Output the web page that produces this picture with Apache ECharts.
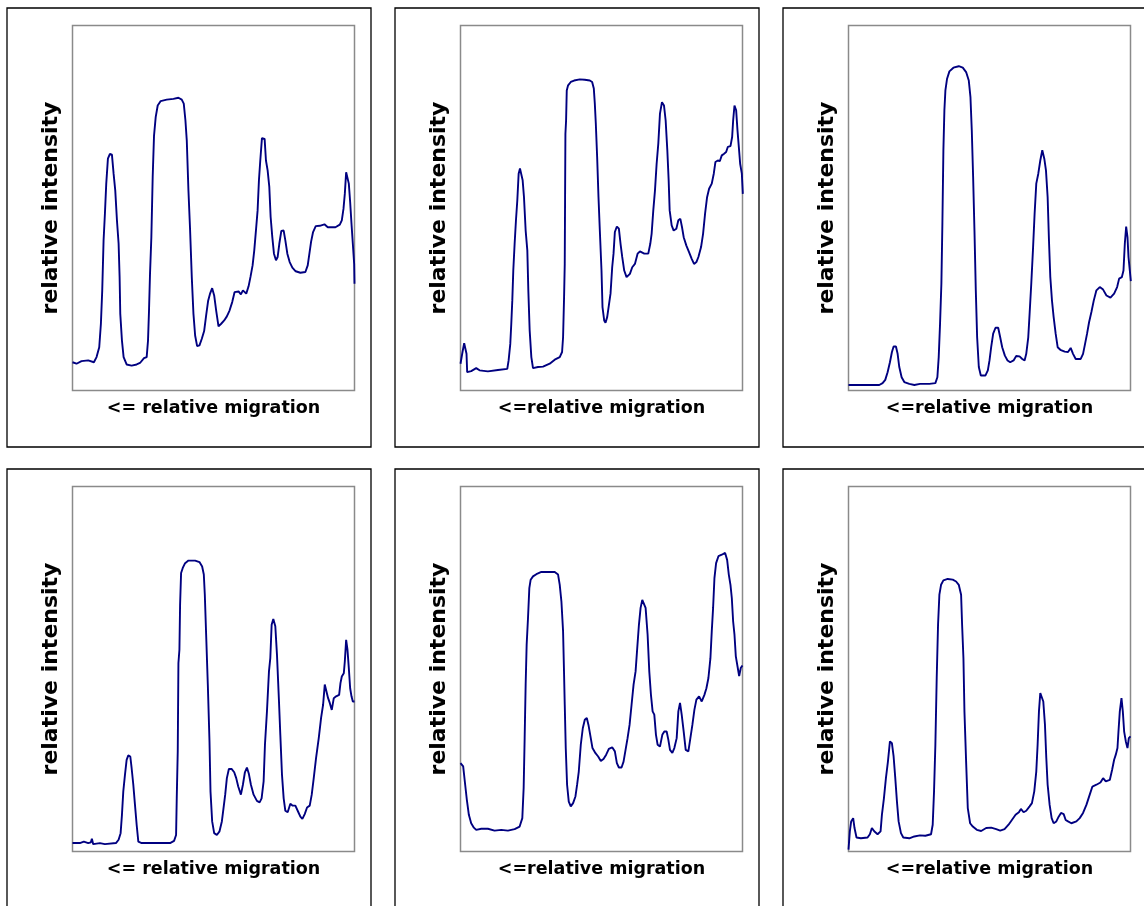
<!DOCTYPE html>
<html>
<head>
<meta charset="utf-8">
<script src="https://cdn.jsdelivr.net/npm/echarts@6/dist/echarts.min.js"></script>
<style>
html,body{margin:0;padding:0;background:#fff;}
#chart{width:1144px;height:906px;}
</style>
</head>
<body>
<div id="chart"></div>
<script>
// Densitometric lane profiles: [relative migration, relative intensity]
const lane1 = [[0,7.7],[3,7.3],[6.75,8.0],[11.75,8.2],[16,7.7],[18,9.1],[20,11.8],[21.25,18.2],[22.25,27.3],[23.25,40.9],[24.25,48.2],[25.25,56.4],[26.5,63.2],[28,64.5],[29.5,64.3],[30.75,59.1],[32,54.5],[33.25,46.4],[34.5,40],[35.25,30.9],[35.75,20.9],[37,13.6],[38.25,9.1],[40.5,7.1],[44.25,6.8],[48,7.1],[50.5,7.5],[53.5,8.8],[55.5,9.1],[56.5,13.6],[57.25,21.8],[58,31.8],[59,41.8],[60,58.2],[61,69.5],[62.25,74.5],[63.75,77.7],[66,78.9],[70.5,79.3],[75.5,79.5],[79.25,79.8],[81.75,79.3],[83.25,78.2],[84.5,73.6],[85.5,68.2],[86.75,54.5],[88,43.6],[89.25,30.9],[90.5,20.9],[91.75,15],[93.25,12.1],[95,12.3],[96.75,14.1],[98.5,16.2],[100,20.5],[101.5,24.5],[103,26.5],[104.5,27.9],[106,25.9],[107.5,21.8],[109.25,17.5],[111.25,18.2],[113.5,19.1],[115.5,20.2],[117.5,21.8],[119.5,24.1],[121.25,26.8],[124.25,27],[126,26.2],[127.5,27.3],[130,26.4],[131.75,28.4],[133.25,31.1],[134.75,34.1],[136,38.2],[137.25,43.6],[138.5,49.1],[139.5,57.3],[140.5,62.7],[141.75,68.8],[143.75,68.6],[144.75,62.7],[146,60],[147.25,55.5],[148.25,47.3],[149.5,41.8],[150.75,37.3],[152.25,35.5],[153.5,36.4],[154.75,40],[156.25,43.5],[158,43.6],[159.25,40.9],[160.75,37.3],[162.5,35],[164.5,33.5],[167,32.5],[170.5,32.1],[174.25,32.3],[176,34.1],[177.25,37.3],[178.5,40.5],[180,43.2],[182,44.8],[185,44.9],[188.5,45.3],[191,44.5],[196.75,44.5],[200,45.2],[201.5,46.4],[202.75,49.5],[203.75,53.6],[204.75,59.5],[205.75,59.5],[206.75,56.4],[207.75,51.4],[208.75,45.5],[209.75,40],[210.75,34.5],[211,29.1]];
const lane2 = [[0,7.3],[1.5,10.5],[2.75,12.9],[3.75,13.2],[4.5,10],[5,5],[8,5.3],[11.75,6.1],[14.25,5.5],[20.5,5.2],[28,5.6],[35,5.9],[36,8.2],[37.25,12.7],[38,18.2],[38.75,24.5],[39.5,32.7],[40.5,40],[41.5,46.4],[42.5,51.8],[43.5,59.1],[44.5,60.5],[45.75,60],[46.5,57.3],[47.5,52.7],[48.75,43.6],[50,38.2],[50.75,27.3],[51.75,16.4],[53,9.1],[54.25,6.1],[58,6.4],[61.75,6.5],[66.75,7.3],[70.5,8.4],[74.25,9.1],[76,10.5],[76.75,14.5],[77.5,25.5],[78,34.5],[78.25,52.7],[78.5,70],[79,73.6],[79.5,81.8],[80.5,83.2],[82.5,84.1],[85,84.5],[89.25,84.8],[93,84.7],[96.75,84.5],[98.5,84.1],[99.75,82.3],[100.5,78.2],[101.25,72.7],[102.25,63.6],[103.25,52.7],[104.25,43.6],[105.5,32.7],[106.25,22.7],[107.5,19.1],[108.5,18.5],[109.75,20],[111,23.2],[112.25,26.4],[113.5,33.6],[114.5,37.3],[115.5,43.2],[117,44.7],[118.5,44.1],[119.75,40],[121,36.4],[122.5,32.7],[124.25,30.9],[126.75,31.8],[128.5,33.6],[130.5,34.5],[132.5,37.3],[134.25,37.9],[137.5,37.3],[140.5,37.3],[142,40],[143,42.7],[144.25,49.1],[145.5,54.5],[146.75,61.8],[148,67.3],[149.25,75.5],[150.75,78.6],[152.25,77.7],[153.5,73.6],[154.75,65.5],[155.75,57.3],[156.5,49.1],[158,45],[159.5,43.6],[161.5,44.1],[163,46.4],[164.5,46.8],[165.75,44.5],[167,41.8],[169,39.5],[171,37.7],[173,35.9],[174.75,34.5],[176.5,35],[178,36.4],[180,39.1],[181.5,42.7],[183,48.2],[184.5,52.7],[186,55],[188,56.4],[189.5,59.1],[190.75,62.3],[192.5,62.7],[194,62.5],[195.5,64.1],[197,64.5],[198.75,65],[200,66.4],[202,66.6],[203.25,69.1],[204,73.6],[205,77.7],[206.25,76.4],[207.25,70.9],[208.25,66.4],[209.25,61.8],[210.5,59.1],[211.25,53.6]];
const lane3 = [[0,1.5],[10.5,1.5],[23,1.5],[25.5,2],[27.5,2.9],[29.25,5],[31,7.7],[32.5,10.5],[33.75,12],[35.5,12],[36.75,10],[38,6.4],[39.75,3.6],[41.75,2.3],[45.5,1.8],[49.25,1.5],[53.5,1.8],[60.5,1.8],[65,2],[66.5,3.6],[67.5,9.1],[68.5,18.2],[69.5,29.1],[70.25,45.5],[71,65.5],[71.75,76.4],[72.5,81.8],[73.75,85],[75.5,87],[78.5,88],[82.5,88.4],[85.5,88],[88,86.8],[90,84.5],[91.25,80],[92.25,70.9],[93.25,58.2],[94.25,43.6],[95.25,27.3],[96.25,14.5],[97.5,6.4],[99,4.1],[102.5,4.1],[104.25,5.5],[105.5,8.2],[106.75,11.8],[108.25,15.5],[110,17.1],[112,17.1],[113.5,14.5],[115,11.8],[117,9.5],[119,8.2],[121,7.7],[123.5,8.2],[125.5,9.4],[128,9.3],[130,8.6],[131.75,8.2],[133,10],[134.5,14.5],[135.5,20.9],[136.75,29.1],[138,38.2],[139.25,48.2],[140.5,56.4],[142,59.1],[143.5,62.7],[145,65.5],[146.5,63.2],[147.75,60],[149,52.7],[150,40.9],[151,30.9],[152.25,24.5],[153.5,20],[155,15.5],[156.5,11.8],[158.5,11.1],[161.75,10.6],[164.25,10.5],[166.25,11.6],[168,10],[170,8.6],[173.75,8.6],[175.5,10],[177,12.7],[178.5,15.5],[180,18.6],[181.75,21.4],[183.5,24.5],[185.5,27.3],[188,28.2],[190.5,27.5],[193,25.9],[196,25.3],[198.75,26.4],[201,28.2],[202.5,30.5],[204.5,30.9],[205.75,32.7],[206.75,40],[207.75,44.7],[208.75,41.8],[209.5,36.4],[210.5,32.7],[211.25,29.8]];
const lane4 = [[0,2.3],[5.5,2.3],[8.5,2.7],[11.75,2.3],[13.75,2.5],[14.5,3.5],[15.5,2],[20.5,2.3],[24.25,2],[32.5,2.3],[34.5,3.2],[36,5],[37,10],[38,16.4],[39.25,20.9],[40.5,25],[41.75,26.2],[43.25,25.9],[44.25,22.7],[45.5,18.2],[46.75,12.7],[48,7.3],[49.25,2.7],[51.75,2.3],[60.5,2.3],[73,2.3],[76,2.9],[77.5,4.5],[78,14.5],[78.75,27.3],[79.25,51.4],[80,55],[80.5,67.3],[81.25,75.9],[82.5,77.3],[84.25,78.6],[86.75,79.3],[91.75,79.3],[95,78.9],[97,77.7],[98.25,75.5],[99,70],[100,59.1],[101.25,45.5],[102.5,30],[103.25,16.4],[104.5,8.2],[106,5],[108,4.5],[110,5.5],[111.75,8.2],[113,11.8],[114.25,15.5],[115.5,20],[117,22.5],[119,22.5],[121,21.6],[122.5,20],[124,17.7],[126,15.5],[127.5,18.2],[129,21.6],[130.5,22.9],[132,21.1],[133.5,18.2],[135.5,15.5],[138,13.8],[140,13.4],[141.5,14.5],[143,19.1],[144,29.1],[145.5,38.2],[147,49.1],[148,52.7],[149,61.8],[150.25,63.4],[151.75,61.4],[153,53.6],[154.5,40.9],[155.5,31.8],[156.75,20.9],[158,14.5],[159.25,11.1],[161,10.7],[163,13],[164.75,12.5],[166.75,12.5],[168.75,10.9],[170.5,9.5],[172,8.9],[173.75,10.2],[175.5,12],[177.5,12.5],[179,15.5],[180.5,20],[182.25,25.5],[184.25,30.9],[186,36.4],[187.5,40],[188.75,45.5],[190,45.5],[191.25,41.8],[192.5,40.5],[194,38.6],[195.5,41.8],[197.25,42.3],[199.5,42.7],[200.5,45.9],[201.5,47.7],[203,48.6],[203.75,51.8],[204.75,57.7],[205.75,55],[206.75,50],[207.75,44.5],[208.75,42.3],[209.75,40.9],[211,40.9]];
const lane5 = [[0,24.1],[2,23.2],[3.5,18.2],[4.75,14.1],[6.25,10],[8,7.7],[10,6.5],[11.75,5.9],[15.5,6.2],[20.5,6.2],[25.5,5.7],[30.5,5.9],[35.5,5.7],[40.5,6.1],[44.25,6.8],[46.25,9.1],[47.25,17.3],[48,30.9],[48.75,45.5],[49.5,56.4],[50.5,63.6],[51.5,71.8],[52.5,74.1],[54.25,75],[56.75,75.6],[60.5,76.2],[65.5,76.2],[70.5,76.2],[73,75.5],[74.25,72.7],[75.5,68.2],[76.75,60],[77.5,48.2],[78,40],[78.75,28.2],[79.75,18.2],[81,13.6],[82.5,12.3],[84.25,13.2],[86,15],[87.25,18.2],[88.5,21.8],[90,29.1],[91.5,33.6],[93,35.9],[94.5,36.4],[95.75,34.5],[97.25,31.4],[98.75,28.2],[101,26.8],[103,25.9],[105,24.7],[107,25.2],[109,26.4],[111,28],[113.5,28.4],[115.5,27.3],[117,24.1],[118.5,22.9],[120.5,22.9],[122,24.5],[123.5,27.7],[125,30.9],[126.5,34.5],[128,40],[129.5,45.5],[131,49.1],[132.25,55.5],[133.5,61.8],[134.75,66.4],[136,68.6],[137.25,69.1],[138.5,66.4],[140,59.1],[141.25,49.1],[142.5,42.7],[143.75,38.2],[145,37.3],[146.25,31.8],[147.5,29.1],[149.25,28.6],[151,31.8],[152.5,32.7],[154.25,32.7],[155.5,30.5],[156.75,27.7],[158.5,26.9],[160,28.2],[161.75,30.9],[163,38.2],[164.25,40.5],[165.5,37.3],[167,32.7],[168.5,27.7],[170.5,27.3],[172,30.9],[173.5,34.5],[175,38.6],[176.5,41.4],[178.5,42.3],[180.5,40.9],[182.5,42.7],[184,44.5],[185.5,47.3],[187,52.7],[188,60],[189,66.4],[190,74.5],[191.25,78.6],[193,80.5],[195.5,80.9],[198,81.4],[199.5,79.5],[200.75,75.5],[202,72.7],[203,69.1],[204,62.7],[205,59.1],[206,53.2],[207.25,50.5],[208.5,47.8],[209.75,50.1],[211,50.7]];
const lane6 = [[0,0.5],[1,5.5],[2,8.2],[3.5,9.1],[4.5,6.4],[6,3.8],[9.25,3.6],[14.25,3.8],[16,4.7],[17.5,6.4],[19.25,5.5],[21.75,4.7],[24,5.5],[25,10],[26.5,14.5],[28,20],[29.5,24.5],[31,30],[32.5,29.5],[33.75,25.9],[35,20],[36.25,13.6],[37.5,8.2],[39.25,5],[41,3.8],[45.5,3.6],[49.25,4.1],[53.5,4.4],[57.5,4.3],[61.75,4.7],[63,7.3],[64,16.4],[65,29.1],[66,47.3],[67,61.8],[68,70],[69.25,72.7],[71,73.9],[74.25,74.3],[78,74.1],[80.5,73.6],[82.5,72.7],[84.25,70],[85,61.8],[86,52.7],[86.75,38.2],[88,24.5],[89.25,11.8],[91,7.7],[93,6.8],[96,5.9],[99.25,5.6],[103,6.4],[106.75,6.5],[110.5,6.1],[113.5,5.7],[116.75,6.1],[119.75,7.3],[122.25,8.6],[125,10],[127.5,10.7],[129,11.6],[131,10.7],[133,11.1],[135.5,12.3],[137.25,13.2],[139,16.4],[140.5,21.8],[141.5,29.1],[142.5,38.2],[143.5,43.2],[144.75,43.5],[145.75,40.9],[147,34.5],[148,25.5],[149,18.2],[150.5,12.7],[152,9.1],[153.5,7.7],[155.5,8.2],[157.25,9.5],[159,10.5],[161,10.2],[162.5,8.6],[164.25,8.2],[166.75,7.7],[170.5,8.2],[173,9.1],[175.5,10.5],[178,12.7],[180.5,15.5],[182.5,17.7],[185.5,18.2],[188.5,18.8],[190.5,20],[192.5,19.1],[195.5,19.5],[197.25,22.3],[198.75,25],[200,26.4],[201.25,28.2],[202,32.7],[203,38.2],[204.25,41.8],[205.25,38.2],[206.25,32.7],[207.5,30],[208.75,28.2],[209.75,30.9],[211,31.4]];

const lanes = [lane1, lane2, lane3, lane4, lane5, lane6];
const xLabels = ['<= relative migration', '<=relative migration', '<=relative migration',
                 '<= relative migration', '<=relative migration', '<=relative migration'];
const yLabel = 'relative intensity';
const X_MAX = 211;
const Y_MAX = 99.5;

// layout
const colLeft = [72.5, 460.5, 848.5];
const rowTop = [25.5, 486.5];
const plotW = 282, plotH = 365;
const boxOffX = -65.5, boxOffY = -17.5, boxW = 364, boxH = 439;

const chart = echarts.init(document.getElementById('chart'), null, {renderer: 'canvas'});
const grids = [], xAxes = [], yAxes = [], series = [], graphics = [];
const FONT = '"DejaVu Sans", Verdana, sans-serif';

lanes.forEach((lane, i) => {
  const r = Math.floor(i / 3), c = i % 3;
  const left = colLeft[c], top = rowTop[r];
  grids.push({
    left: left, top: top, width: plotW, height: plotH,
    show: true, borderColor: '#8a8a8a', borderWidth: 1.5, backgroundColor: 'transparent'
  });
  xAxes.push({
    type: 'value', gridIndex: i, min: 0, max: X_MAX,
    name: xLabels[i], nameLocation: 'middle', nameGap: 9,
    nameTextStyle: {fontFamily: FONT, fontWeight: 'bold', fontSize: 17.5, color: '#000'},
    axisLine: {show: false}, axisTick: {show: false}, axisLabel: {show: false}, splitLine: {show: false}
  });
  yAxes.push({
    type: 'value', gridIndex: i, min: 0, max: Y_MAX,
    name: yLabel, nameLocation: 'middle', nameGap: 10, nameRotate: 90,
    nameTextStyle: {fontFamily: FONT, fontWeight: 'bold', fontSize: 22, color: '#000'},
    axisLine: {show: false}, axisTick: {show: false}, axisLabel: {show: false}, splitLine: {show: false}
  });
  series.push({
    type: 'line', xAxisIndex: i, yAxisIndex: i, data: lane,
    showSymbol: false, symbol: 'none', smooth: false,
    lineStyle: {color: '#000080', width: 1.9}, silent: true
  });
  graphics.push({
    type: 'rect', silent: true,
    shape: {x: left + boxOffX, y: top + boxOffY, width: boxW, height: boxH},
    style: {fill: 'none', stroke: '#000', lineWidth: 1.3}
  });
});

chart.setOption({
  animation: false,
  backgroundColor: '#fff',
  grid: grids, xAxis: xAxes, yAxis: yAxes, series: series,
  graphic: graphics
});
</script>
</body>
</html>
